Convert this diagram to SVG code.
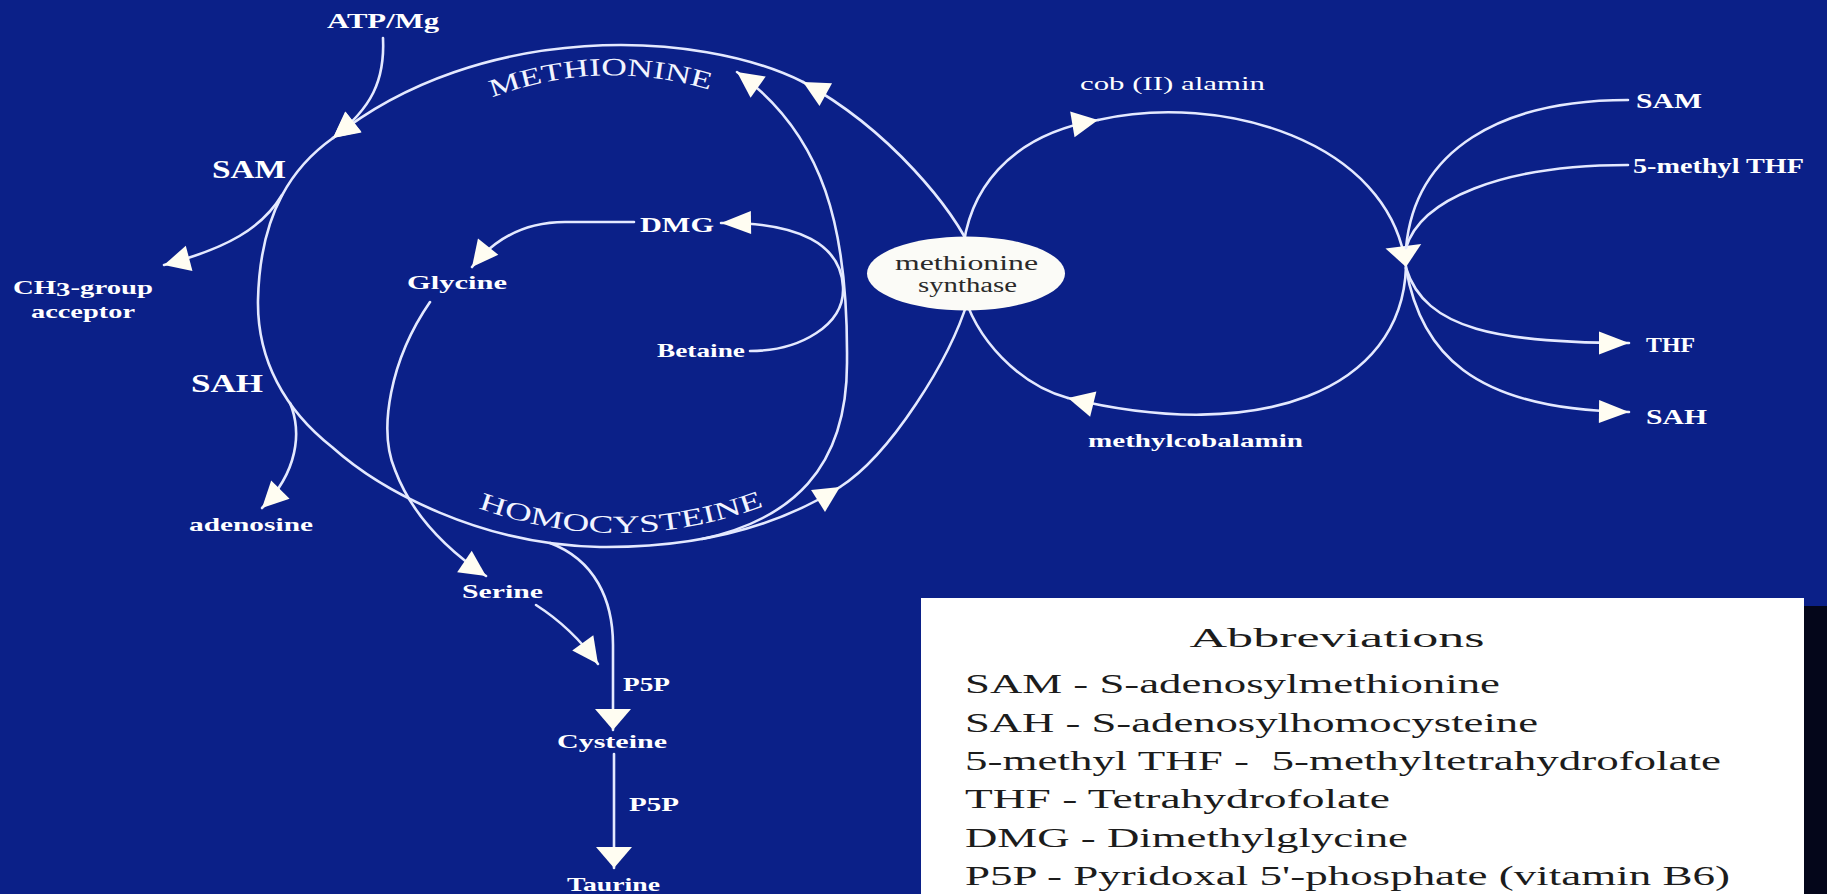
<svg xmlns="http://www.w3.org/2000/svg" width="1827" height="894" viewBox="0 0 1827 894">
  <defs>
    <style>
      .ln{fill:none;stroke:#e4e9ff;stroke-width:2.6;stroke-linecap:round}
      .lb{font-family:"Liberation Serif","Times New Roman",serif;fill:#ffffff;font-weight:bold}
      .lr{font-family:"Liberation Serif","Times New Roman",serif;fill:#ffffff}
      .arc{font-family:"Liberation Serif","Times New Roman",serif;fill:#f2f4ff;font-size:25px}
      .dk{font-family:"Liberation Serif","Times New Roman",serif;fill:#2a2a2a;font-size:20px}
      .lg{font-family:"Liberation Serif","Times New Roman",serif;fill:#1c1c1c;font-size:28px}
      .ah{fill:#fffdf2}
    </style>
    <!-- arrowheads: general, vertical (wide), horizontal (long) -->
    <marker id="ah" markerUnits="userSpaceOnUse" markerWidth="30" markerHeight="30" refX="26" refY="13" orient="auto" overflow="visible">
      <path class="ah" d="M0,0 L26,13 L0,26 Z"/>
    </marker>
    <marker id="ahv" markerUnits="userSpaceOnUse" markerWidth="24" markerHeight="38" refX="21" refY="18" orient="auto" overflow="visible">
      <path class="ah" d="M0,0 L21,18 L0,36 Z"/>
    </marker>
    <marker id="ahh" markerUnits="userSpaceOnUse" markerWidth="32" markerHeight="24" refX="30" refY="11.5" orient="auto" overflow="visible">
      <path class="ah" d="M0,0 L30,11.5 L0,23 Z"/>
    </marker>
    <path id="pMet" d="M 486 100 Q 600 55 716 92" fill="none"/>
    <path id="pHcy" d="M 470 505 Q 620 562 772 503" fill="none"/>
  </defs>

  <rect x="0" y="0" width="1827" height="894" fill="#0b2088"/>

  <!-- connectors -->
  <g id="connectors" class="ln">
    <!-- ATP/Mg into SAM -->
    <path d="M 383 38 C 385 80, 372 108, 333 138" marker-end="url(#ah)"/>
    <!-- methionine cycle -->
    <path d="M 975 258 C 955 210, 890 130, 803 82" marker-end="url(#ah)"/>
    <path d="M 803 82 C 700 30, 480 20, 333 138" marker-end="url(#ah)"/>
    <path d="M 333 138 C 295 165, 260 210, 258 300 C 257 360, 285 410, 332 447 C 380 490, 480 545, 600 547 C 700 548, 780 525, 840 487" marker-end="url(#ah)"/>
    <path d="M 840 487 C 890 455, 950 360, 968 300"/>
    <!-- side branches of the cycle -->
    <path d="M 282 195 C 262 228, 228 248, 164 265" marker-end="url(#ah)"/>
    <path d="M 290 403 C 302 432, 298 472, 262 508" marker-end="url(#ah)"/>
    <!-- betaine route -->
    <path d="M 750 351 C 800 351, 845 325, 843 287 C 841 245, 800 222, 721 223" marker-end="url(#ahh)"/>
    <path d="M 634 222 L 565 222 C 525 222, 495 238, 472 267" marker-end="url(#ah)"/>
    <path d="M 702 539 C 790 520, 848 470, 847 360 C 848 230, 825 135, 737 72" marker-end="url(#ah)"/>
    <!-- transsulfuration -->
    <path d="M 430 302 C 390 360, 378 430, 395 470 C 410 510, 440 545, 486 576" marker-end="url(#ah)"/>
    <path d="M 550 543 C 595 560, 613 600, 613 645 L 613 730" marker-end="url(#ahv)"/>
    <path d="M 536 605 Q 572 628, 598 664" marker-end="url(#ah)"/>
    <path d="M 614 754 L 614 868" marker-end="url(#ahv)"/>
    <!-- cobalamin cycle -->
    <path d="M 962 262 C 965 190, 1010 135, 1098 120" marker-end="url(#ah)"/>
    <path d="M 1098 120 C 1220 92, 1390 140, 1406 267" marker-end="url(#ahv)"/>
    <path d="M 1406 267 C 1402 390, 1260 445, 1068 398" marker-end="url(#ah)"/>
    <path d="M 1068 398 C 1020 385, 975 340, 962 288"/>
    <!-- folate / SAM inputs and outputs -->
    <path d="M 1628 100 C 1500 100, 1415 150, 1406 248"/>
    <path d="M 1628 165 C 1500 165, 1420 200, 1406 248"/>
    <path d="M 1406 268 C 1425 330, 1500 343, 1629 343" marker-end="url(#ahh)"/>
    <path d="M 1406 268 C 1420 350, 1470 410, 1629 412" marker-end="url(#ahh)"/>
  </g>

  <!-- enzyme -->
  <g id="node-synthase">
    <ellipse cx="966" cy="273.5" rx="99" ry="37" fill="#fbfbf7"/>
    <text class="dk" x="895" y="270" textLength="143" lengthAdjust="spacingAndGlyphs">methionine</text>
    <text class="dk" x="918" y="292" textLength="99" lengthAdjust="spacingAndGlyphs">synthase</text>
  </g>

  <!-- metabolites -->
  <g id="node-methionine"><text class="arc"><textPath href="#pMet" startOffset="50%" text-anchor="middle" textLength="222" lengthAdjust="spacingAndGlyphs">METHIONINE</textPath></text></g>
  <g id="node-homocysteine"><text class="arc"><textPath href="#pHcy" startOffset="50%" text-anchor="middle" textLength="292" lengthAdjust="spacingAndGlyphs">HOMOCYSTEINE</textPath></text></g>
  <g id="node-atp"><text class="lb" x="327" y="28" font-size="20" textLength="112" lengthAdjust="spacingAndGlyphs">ATP/Mg</text></g>
  <g id="node-sam"><text class="lb" x="212" y="178" font-size="25" textLength="74" lengthAdjust="spacingAndGlyphs">SAM</text></g>
  <g id="node-ch3">
    <text class="lb" x="13" y="294" font-size="19" textLength="140" lengthAdjust="spacingAndGlyphs">CH<tspan dy="2">3</tspan><tspan dy="-2">-group</tspan></text>
    <text class="lb" x="31" y="318" font-size="19" textLength="104" lengthAdjust="spacingAndGlyphs">acceptor</text>
  </g>
  <g id="node-sah"><text class="lb" x="191" y="392" font-size="25" textLength="72" lengthAdjust="spacingAndGlyphs">SAH</text></g>
  <g id="node-adenosine"><text class="lb" x="189" y="531" font-size="19" textLength="124" lengthAdjust="spacingAndGlyphs">adenosine</text></g>
  <g id="node-glycine"><text class="lb" x="407" y="289" font-size="19" textLength="100" lengthAdjust="spacingAndGlyphs">Glycine</text></g>
  <g id="node-dmg"><text class="lb" x="640" y="232" font-size="20" textLength="74" lengthAdjust="spacingAndGlyphs">DMG</text></g>
  <g id="node-betaine"><text class="lb" x="657" y="357" font-size="19" textLength="88" lengthAdjust="spacingAndGlyphs">Betaine</text></g>
  <g id="node-serine"><text class="lb" x="462" y="598" font-size="19" textLength="81" lengthAdjust="spacingAndGlyphs">Serine</text></g>
  <g id="node-p5p-1"><text class="lb" x="623" y="691" font-size="18" textLength="47" lengthAdjust="spacingAndGlyphs">P5P</text></g>
  <g id="node-cysteine"><text class="lb" x="557" y="748" font-size="19" textLength="110" lengthAdjust="spacingAndGlyphs">Cysteine</text></g>
  <g id="node-p5p-2"><text class="lb" x="629" y="811" font-size="18" textLength="50" lengthAdjust="spacingAndGlyphs">P5P</text></g>
  <g id="node-taurine"><text class="lb" x="567" y="891" font-size="19" textLength="93" lengthAdjust="spacingAndGlyphs">Taurine</text></g>
  <g id="node-cob2"><text class="lr" x="1080" y="90" font-size="19" textLength="185" lengthAdjust="spacingAndGlyphs">cob (II) alamin</text></g>
  <g id="node-mecbl"><text class="lb" x="1088" y="447" font-size="19" textLength="215" lengthAdjust="spacingAndGlyphs">methylcobalamin</text></g>
  <g id="node-sam-r"><text class="lb" x="1636" y="108" font-size="21" textLength="66" lengthAdjust="spacingAndGlyphs">SAM</text></g>
  <g id="node-mthf"><text class="lb" x="1633" y="173" font-size="20" textLength="171" lengthAdjust="spacingAndGlyphs">5-methyl THF</text></g>
  <g id="node-thf"><text class="lb" x="1646" y="352" font-size="21" textLength="49" lengthAdjust="spacingAndGlyphs">THF</text></g>
  <g id="node-sah-r"><text class="lb" x="1646" y="424" font-size="21" textLength="61" lengthAdjust="spacingAndGlyphs">SAH</text></g>

  <!-- abbreviations panel -->
  <g id="legend">
    <rect x="930" y="606" width="897" height="288" fill="#04061a"/>
    <rect x="921" y="598" width="883" height="296" fill="#ffffff"/>
    <text class="lg" x="1337" y="647" font-size="33" text-anchor="middle" textLength="295" lengthAdjust="spacingAndGlyphs">Abbreviations</text>
    <text class="lg" x="965" y="693" textLength="535" lengthAdjust="spacingAndGlyphs">SAM - S-adenosylmethionine</text>
    <text class="lg" x="965" y="732" textLength="573" lengthAdjust="spacingAndGlyphs">SAH - S-adenosylhomocysteine</text>
    <text class="lg" x="965" y="770" textLength="756" lengthAdjust="spacingAndGlyphs" xml:space="preserve">5-methyl THF -  5-methyltetrahydrofolate</text>
    <text class="lg" x="965" y="808" textLength="425" lengthAdjust="spacingAndGlyphs">THF - Tetrahydrofolate</text>
    <text class="lg" x="965" y="847" textLength="443" lengthAdjust="spacingAndGlyphs">DMG - Dimethylglycine</text>
    <text class="lg" x="965" y="885" textLength="765" lengthAdjust="spacingAndGlyphs">P5P - Pyridoxal 5'-phosphate (vitamin B6)</text>
  </g>
</svg>
